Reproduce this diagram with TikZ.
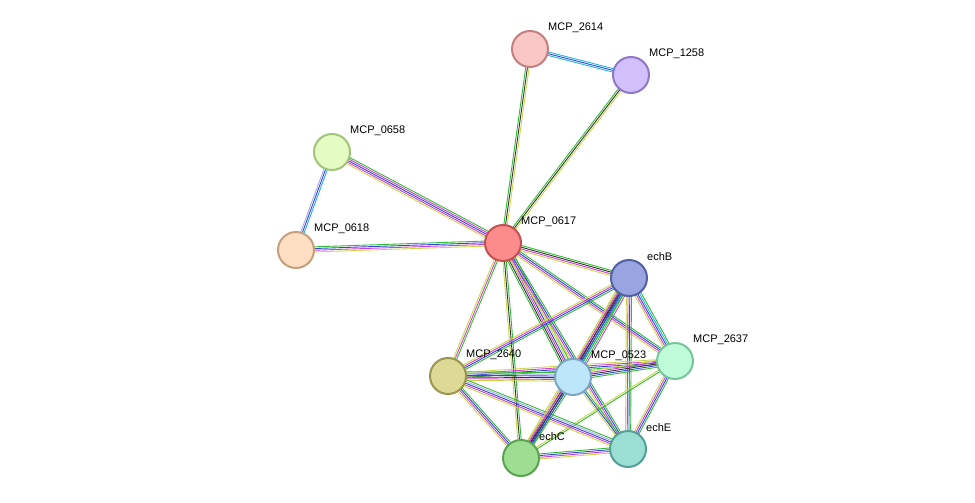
\documentclass[tikz,border=0pt]{standalone}
\usepackage{fontspec}
\setmainfont{Liberation Sans}
\usetikzlibrary{calc,backgrounds}

\definecolor{tm}{HTML}{C8D84A}
\definecolor{bk}{HTML}{333333}
\definecolor{mg}{HTML}{D040D0}
\definecolor{bl}{HTML}{3344E0}
\definecolor{cy}{HTML}{22B4E0}
\definecolor{gr}{HTML}{33BB33}
\definecolor{lav}{HTML}{A8A8F0}

% one link = several thin parallel lines, one per evidence colour
\newcommand\strlink[3]{%
  \foreach \c [count=\n] in {#3}{\global\let\nlinks\n}%
  \foreach \c [count=\i] in {#3}{%
    \pgfmathsetmacro\off{(\i-(\nlinks+1)/2)*1.7}%
    \draw[\c,line width=0.9pt] ($(#1)!\off pt!90:(#2)$) -- ($(#2)!\off pt!-90:(#1)$);
  }%
}

\begin{document}
\begin{tikzpicture}[x=1pt,y=-1pt]
  \tikzset{prot/.style={circle, line width=2pt, minimum size=36pt, inner sep=0pt},
           plab/.style={anchor=west, font=\fontsize{11}{13}\selectfont, inner sep=0pt}}
  \useasboundingbox (0,0) rectangle (975,503);

  \node[prot, fill={rgb,255:red,249;green,198;blue,198}, draw={rgb,255:red,196;green,128;blue,128}] (p2614) at (530,49) {};
  \node[prot, fill={rgb,255:red,210;green,192;blue,250}, draw={rgb,255:red,144;green,120;blue,200}] (p1258) at (631,75) {};
  \node[prot, fill={rgb,255:red,228;green,252;blue,196}, draw={rgb,255:red,160;green,196;blue,120}] (p0658) at (332,152) {};
  \node[prot, fill={rgb,255:red,254;green,222;blue,194}, draw={rgb,255:red,196;green,160;blue,124}] (p0618) at (296,250) {};
  \node[prot, fill={rgb,255:red,252;green,140;blue,140}, draw={rgb,255:red,196;green,80;blue,80}] (p0617) at (503,243) {};
  \node[prot, fill={rgb,255:red,154;green,164;blue,224}, draw={rgb,255:red,84;green,96;blue,164}] (echB) at (629,278) {};
  \node[prot, fill={rgb,255:red,192;green,252;blue,218}, draw={rgb,255:red,120;green,196;blue,156}] (p2637) at (675,361) {};
  \node[prot, fill={rgb,255:red,222;green,218;blue,150}, draw={rgb,255:red,154;green,150;blue,80}] (p2640) at (448,376) {};
  \node[prot, fill={rgb,255:red,190;green,230;blue,250}, draw={rgb,255:red,124;green,164;blue,196}] (p0523) at (573,377) {};
  \node[prot, fill={rgb,255:red,158;green,222;blue,146}, draw={rgb,255:red,90;green,164;blue,80}] (echC) at (521,458) {};
  \node[prot, fill={rgb,255:red,154;green,222;blue,212}, draw={rgb,255:red,84;green,160;blue,150}] (echE) at (628,449) {};

  \node[plab] (l2614) at ($(p2614)+(18,-21)$) {MCP\_2614};
  \node[plab] (l1258) at ($(p1258)+(18,-21)$) {MCP\_1258};
  \node[plab] (l0658) at ($(p0658)+(18,-21)$) {MCP\_0658};
  \node[plab] (l0618) at ($(p0618)+(18,-21)$) {MCP\_0618};
  \node[plab] (l0617) at ($(p0617)+(18,-21)$) {MCP\_0617};
  \node[plab] (lechB) at ($(echB)+(18,-21)$) {echB};
  \node[plab] (l2637) at ($(p2637)+(18,-21)$) {MCP\_2637};
  \node[plab] (l2640) at ($(p2640)+(18,-21)$) {MCP\_2640};
  \node[plab] (l0523) at ($(p0523)+(18,-21)$) {MCP\_0523};
  \node[plab] (lechC) at ($(echC)+(18,-21)$) {echC};
  \node[plab] (lechE) at ($(echE)+(18,-21)$) {echE};

  \begin{pgfonlayer}{background}
    \strlink{p2614}{p1258}{cy,bl,cy}
    \strlink{p2614}{p0617}{gr,bk,tm}
    \strlink{p1258}{p0617}{gr,bk,tm}
    \strlink{p0658}{p0618}{lav,bl,cy}
    \strlink{p0658}{p0617}{tm,mg,bl,mg,gr}
    \strlink{p0618}{p0617}{tm,mg,bl,gr}
    \strlink{p0617}{echB}{tm,mg,bk,gr}
    \strlink{p0617}{p2637}{tm,mg,bl,gr}
    \strlink{p0617}{p2640}{tm,mg,gr}
    \strlink{p0617}{p0523}{gr,bk,mg,bl,tm,gr}
    \strlink{p0617}{echC}{tm,bk,gr}
    \strlink{p0617}{echE}{tm,mg,bl,gr}
    \strlink{echB}{p2640}{tm,mg,bl,gr}
    \strlink{echB}{p0523}{tm,mg,bk,bl,cy,gr,mg}
    \strlink{echB}{p2637}{tm,mg,bl,cy,gr}
    \strlink{echB}{echC}{tm,mg,bk,bl,gr}
    \strlink{echB}{echE}{tm,mg,bl,gr}
    \strlink{p2637}{p2640}{tm,mg,bl,gr}
    \strlink{p2637}{p0523}{tm,mg,bk,bl,gr}
    \strlink{p2637}{echE}{tm,mg,bl,gr}
    \strlink{p2637}{echC}{tm,gr}
    \strlink{p2640}{p0523}{tm,mg,bk,bl,lav,gr}
    \strlink{p2640}{echC}{tm,mg,bl,gr}
    \strlink{p2640}{echE}{tm,mg,bl,lav,gr}
    \strlink{p0523}{echC}{tm,mg,bk,bl,gr}
    \strlink{p0523}{echE}{tm,bl,gr}
    \strlink{echC}{echE}{tm,mg,bl,gr}
  \end{pgfonlayer}
\end{tikzpicture}
\end{document}
